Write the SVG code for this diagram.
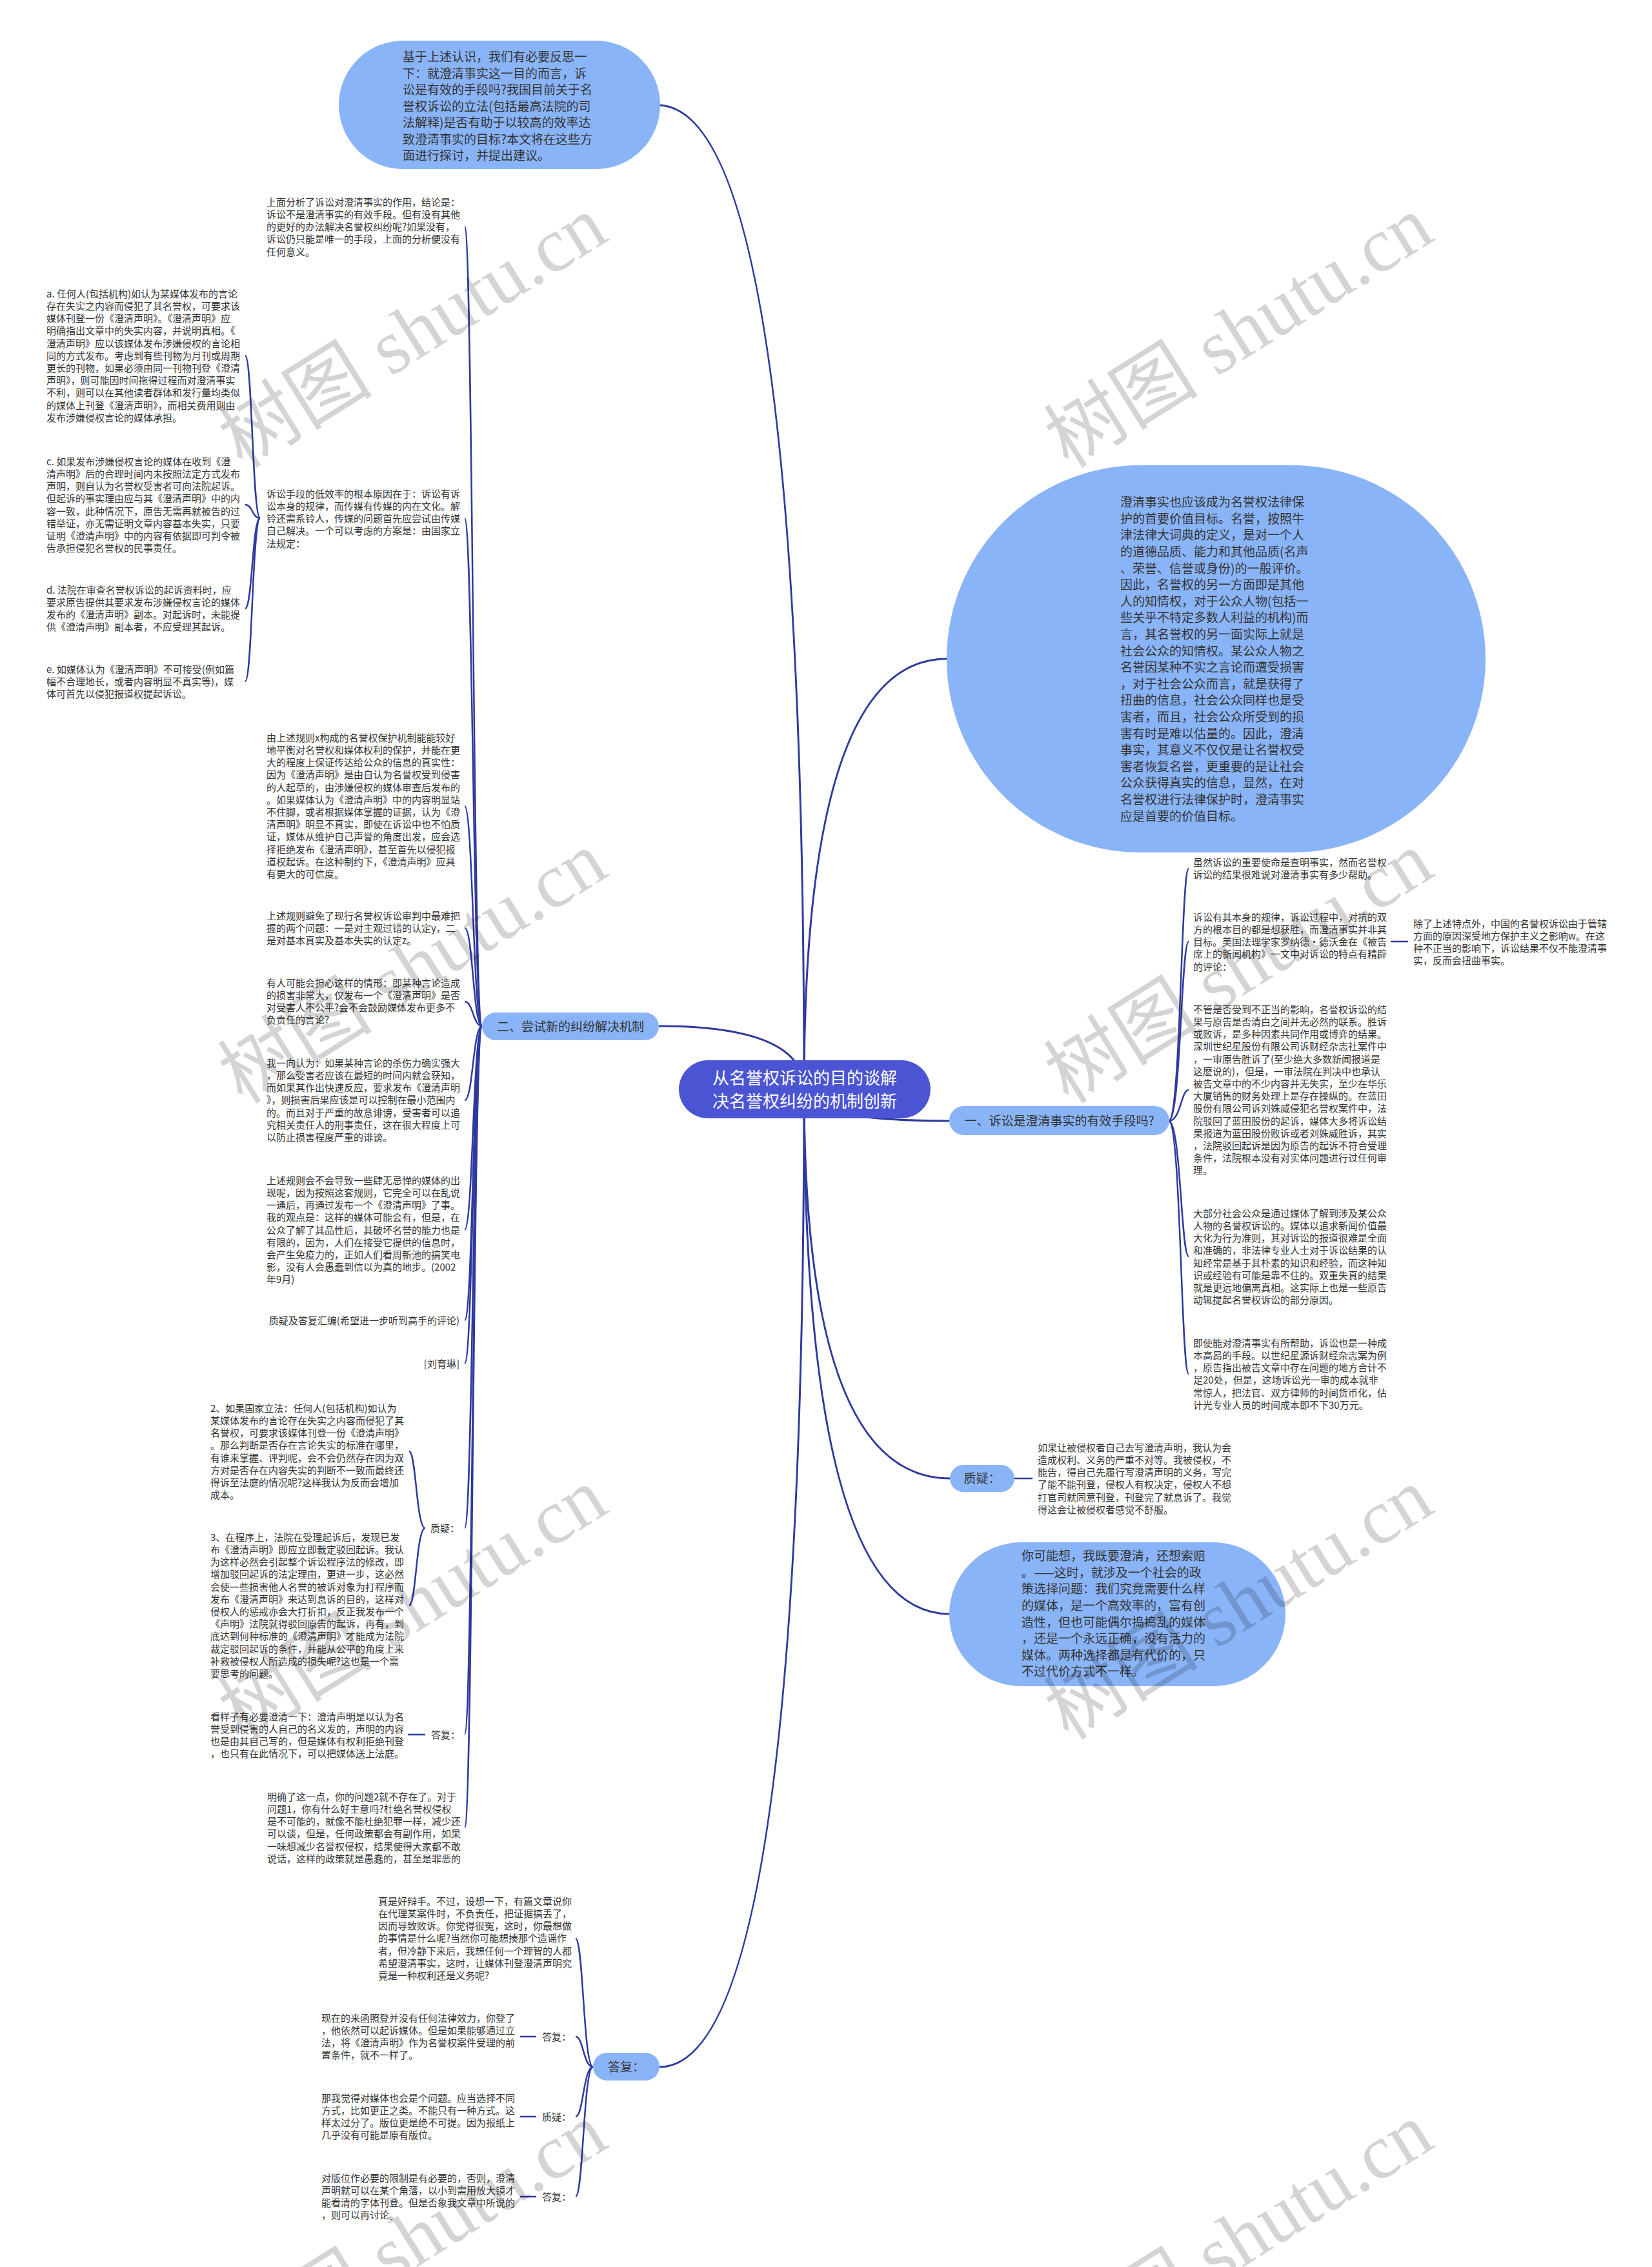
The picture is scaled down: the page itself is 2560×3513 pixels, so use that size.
<svg xmlns="http://www.w3.org/2000/svg" width="2560" height="3513" viewBox="0 0 2560 3513">
<style>
.c{fill:none;stroke:#2E3A9E;stroke-width:2.5}
.cm{fill:none;stroke:#2E3A9E;stroke-width:3}
.t{font-family:"Noto Sans CJK SC","Noto Sans",sans-serif;font-size:15px;fill:#333}
.tb{font-family:"Noto Sans CJK SC","Noto Sans",sans-serif;font-size:19px;fill:#333}
.nb{fill:#8AB4F8}
.wm{font-family:"Liberation Serif","Noto Sans CJK SC",serif;font-size:120px;fill:#000;fill-opacity:0.17}
</style>
<rect width="2560" height="3513" fill="#fff"/>
<g id="connectors">
<path class="cm" d="M1246 1688 Q1246 163 1019 163"/>
<path class="cm" d="M1246 1688 Q1246 1021 1467 1021"/>
<path class="cm" d="M1246 1688 Q1246 1590 1021 1590"/>
<path class="cm" d="M1246 1688 Q1246 1737 1471 1737"/>
<path class="cm" d="M1246 1688 Q1246 2291 1472 2291"/>
<path class="cm" d="M1246 1688 Q1246 2501 1471 2501"/>
<path class="cm" d="M1246 1688 Q1246 3203 1022 3203"/>
<path class="c" d="M747 1590 C733 1590 733 351 720 351"/>
<path class="c" d="M747 1590 C733 1590 733 803 720 803"/>
<path class="c" d="M747 1590 C733 1590 733 1249 720 1249"/>
<path class="c" d="M747 1590 C733 1590 733 1438 720 1438"/>
<path class="c" d="M747 1590 C733 1590 733 1552 720 1552"/>
<path class="c" d="M747 1590 C733 1590 733 1705 720 1705"/>
<path class="c" d="M747 1590 C733 1590 733 1906 720 1906"/>
<path class="c" d="M747 1590 C733 1590 733 2046 720 2046"/>
<path class="c" d="M747 1590 C733 1590 733 2113 720 2113"/>
<path class="c" d="M747 1590 C733 1590 733 2368 720 2368"/>
<path class="c" d="M747 1590 C733 1590 733 2688 720 2688"/>
<path class="c" d="M747 1590 C733 1590 733 2832 720 2832"/>
<path class="c" d="M403 803 C391 803 391 551 380 551"/>
<path class="c" d="M403 803 C391 803 391 782 380 782"/>
<path class="c" d="M403 803 C391 803 391 943 380 943"/>
<path class="c" d="M403 803 C391 803 391 1056 380 1056"/>
<path class="c" d="M659 2368 C645 2368 645 2249 634 2249"/>
<path class="c" d="M659 2368 C645 2368 645 2488 634 2488"/>
<path class="c" d="M659 2688 H632"/>
<path class="c" d="M1811 1737 C1830 1737 1830 1346 1842 1346"/>
<path class="c" d="M1811 1737 C1830 1737 1830 1459 1842 1459"/>
<path class="c" d="M1811 1737 C1830 1737 1830 1689 1842 1689"/>
<path class="c" d="M1811 1737 C1830 1737 1830 1947 1842 1947"/>
<path class="c" d="M1811 1737 C1830 1737 1830 2129 1842 2129"/>
<path class="c" d="M2155 1459 H2182"/>
<path class="c" d="M1572 2291 H1600"/>
<path class="c" d="M919 3203 C904 3203 904 3004 892 3004"/>
<path class="c" d="M919 3203 C904 3203 904 3156 892 3156"/>
<path class="c" d="M919 3203 C904 3203 904 3280 892 3280"/>
<path class="c" d="M919 3203 C904 3203 904 3404 892 3404"/>
<path class="c" d="M831 3156 H806"/>
<path class="c" d="M831 3280 H806"/>
<path class="c" d="M831 3404 H806"/>
</g>
<g id="center">
<rect x="1052" y="1643" width="390" height="90" rx="45" fill="#4B55D3"/>
<text font-family="Noto Sans CJK SC,sans-serif" font-size="26" fill="#fff" text-anchor="middle"><tspan x="1247" y="1680">从名誉权诉讼的目的谈解</tspan><tspan x="1247" y="1716">决名誉权纠纷的机制创新</tspan></text>
</g>
<g id="top-bubble">
<rect class="nb" x="525" y="63" width="498" height="199" rx="99.5"/>
<text class="tb" x="624" y="95.2"><tspan x="624">基于上述认识，我们有必要反思一</tspan><tspan x="624" dy="25.5">下：就澄清事实这一目的而言，诉</tspan><tspan x="624" dy="25.5">讼是有效的手段吗?我国目前关于名</tspan><tspan x="624" dy="25.5">誉权诉讼的立法(包括最高法院的司</tspan><tspan x="624" dy="25.5">法解释)是否有助于以较高的效率达</tspan><tspan x="624" dy="25.5">致澄清事实的目标?本文将在这些方</tspan><tspan x="624" dy="25.5">面进行探讨，并提出建议。</tspan></text>
</g>
<g id="ellipse">
<rect class="nb" x="1467" y="721" width="835" height="600" rx="300"/>
<text class="tb" x="1736" y="785.2"><tspan x="1736">澄清事实也应该成为名誉权法律保</tspan><tspan x="1736" dy="25.6">护的首要价值目标。名誉，按照牛</tspan><tspan x="1736" dy="25.6">津法律大词典的定义，是对一个人</tspan><tspan x="1736" dy="25.6">的道德品质、能力和其他品质(名声</tspan><tspan x="1736" dy="25.6">、荣誉、信誉或身份)的一般评价。</tspan><tspan x="1736" dy="25.6">因此，名誉权的另一方面即是其他</tspan><tspan x="1736" dy="25.6">人的知情权，对于公众人物(包括一</tspan><tspan x="1736" dy="25.6">些关乎不特定多数人利益的机构)而</tspan><tspan x="1736" dy="25.6">言，其名誉权的另一面实际上就是</tspan><tspan x="1736" dy="25.6">社会公众的知情权。某公众人物之</tspan><tspan x="1736" dy="25.6">名誉因某种不实之言论而遭受损害</tspan><tspan x="1736" dy="25.6">，对于社会公众而言，就是获得了</tspan><tspan x="1736" dy="25.6">扭曲的信息，社会公众同样也是受</tspan><tspan x="1736" dy="25.6">害者，而且，社会公众所受到的损</tspan><tspan x="1736" dy="25.6">害有时是难以估量的。因此，澄清</tspan><tspan x="1736" dy="25.6">事实，其意义不仅仅是让名誉权受</tspan><tspan x="1736" dy="25.6">害者恢复名誉，更重要的是让社会</tspan><tspan x="1736" dy="25.6">公众获得真实的信息，显然，在对</tspan><tspan x="1736" dy="25.6">名誉权进行法律保护时，澄清事实</tspan><tspan x="1736" dy="25.6">应是首要的价值目标。</tspan></text>
</g>
<g id="bubble-bottom">
<rect class="nb" x="1471" y="2390" width="521" height="223" rx="111.5"/>
<text class="tb" x="1583" y="2418.2"><tspan x="1583">你可能想，我既要澄清，还想索赔</tspan><tspan x="1583" dy="25.6">。——这时，就涉及一个社会的政</tspan><tspan x="1583" dy="25.6">策选择问题：我们究竟需要什么样</tspan><tspan x="1583" dy="25.6">的媒体，是一个高效率的，富有创</tspan><tspan x="1583" dy="25.6">造性，但也可能偶尔捣捣乱的媒体</tspan><tspan x="1583" dy="25.6">，还是一个永远正确，没有活力的</tspan><tspan x="1583" dy="25.6">媒体。两种选择都是有代价的，只</tspan><tspan x="1583" dy="25.6">不过代价方式不一样。</tspan></text>
</g>
<g id="branch-2">
<rect class="nb" x="747" y="1569" width="274" height="43" rx="21.5"/>
<text class="tb" x="884" y="1597.7" text-anchor="middle">二、尝试新的纠纷解决机制</text>
</g>
<g id="branch-1">
<rect class="nb" x="1471" y="1714" width="341" height="45" rx="22.5"/>
<text class="tb" x="1641.5" y="1743.7" text-anchor="middle">一、诉讼是澄清事实的有效手段吗?</text>
</g>
<g id="branch-q">
<rect class="nb" x="1472" y="2270" width="100" height="42" rx="21"/>
<text class="tb" x="1522" y="2298.2" text-anchor="middle">质疑：</text>
</g>
<g id="branch-a">
<rect class="nb" x="919" y="3181" width="103" height="43" rx="21.5"/>
<text class="tb" x="970.5" y="3209.7" text-anchor="middle">答复：</text>
</g>
<g id="L1"><text class="t" x="413" y="318.7"><tspan x="413">上面分析了诉讼对澄清事实的作用，结论是：</tspan><tspan x="413" dy="19.2">诉讼不是澄清事实的有效手段。但有没有其他</tspan><tspan x="413" dy="19.2">的更好的办法解决名誉权纠纷呢?如果没有，</tspan><tspan x="413" dy="19.2">诉讼仍只能是唯一的手段，上面的分析便没有</tspan><tspan x="413" dy="19.2">任何意义。</tspan></text></g>
<g id="L2"><text class="t" x="413" y="770.7"><tspan x="413">诉讼手段的低效率的根本原因在于：诉讼有诉</tspan><tspan x="413" dy="19.2">讼本身的规律，而传媒有传媒的内在文化。解</tspan><tspan x="413" dy="19.2">铃还需系铃人，传媒的问题首先应尝试由传媒</tspan><tspan x="413" dy="19.2">自己解决。一个可以考虑的方案是：由国家立</tspan><tspan x="413" dy="19.2">法规定：</tspan></text></g>
<g id="La"><text class="t" x="72" y="460.7"><tspan x="72">a. 任何人(包括机构)如认为某媒体发布的言论</tspan><tspan x="72" dy="19.2">存在失实之内容而侵犯了其名誉权，可要求该</tspan><tspan x="72" dy="19.2">媒体刊登一份《澄清声明》。《澄清声明》应</tspan><tspan x="72" dy="19.2">明确指出文章中的失实内容，并说明真相。《</tspan><tspan x="72" dy="19.2">澄清声明》应以该媒体发布涉嫌侵权的言论相</tspan><tspan x="72" dy="19.2">同的方式发布。考虑到有些刊物为月刊或周期</tspan><tspan x="72" dy="19.2">更长的刊物，如果必须由同一刊物刊登《澄清</tspan><tspan x="72" dy="19.2">声明》，则可能因时间拖得过程而对澄清事实</tspan><tspan x="72" dy="19.2">不利，则可以在其他读者群体和发行量均类似</tspan><tspan x="72" dy="19.2">的媒体上刊登《澄清声明》，而相关费用则由</tspan><tspan x="72" dy="19.2">发布涉嫌侵权言论的媒体承担。</tspan></text></g>
<g id="Lc"><text class="t" x="72" y="720.7"><tspan x="72">c. 如果发布涉嫌侵权言论的媒体在收到《澄</tspan><tspan x="72" dy="19.2">清声明》后的合理时间内未按照法定方式发布</tspan><tspan x="72" dy="19.2">声明，则自认为名誉权受害者可向法院起诉。</tspan><tspan x="72" dy="19.2">但起诉的事实理由应与其《澄清声明》中的内</tspan><tspan x="72" dy="19.2">容一致，此种情况下，原告无需再就被告的过</tspan><tspan x="72" dy="19.2">错举证，亦无需证明文章内容基本失实，只要</tspan><tspan x="72" dy="19.2">证明《澄清声明》中的内容有依据即可判令被</tspan><tspan x="72" dy="19.2">告承担侵犯名誉权的民事责任。</tspan></text></g>
<g id="Ld"><text class="t" x="72" y="919.7"><tspan x="72">d. 法院在审查名誉权诉讼的起诉资料时，应</tspan><tspan x="72" dy="19.2">要求原告提供其要求发布涉嫌侵权言论的媒体</tspan><tspan x="72" dy="19.2">发布的《澄清声明》副本。对起诉时，未能提</tspan><tspan x="72" dy="19.2">供《澄清声明》副本者，不应受理其起诉。</tspan></text></g>
<g id="Le"><text class="t" x="72" y="1042.7"><tspan x="72">e. 如媒体认为《澄清声明》不可接受(例如篇</tspan><tspan x="72" dy="19.2">幅不合理地长，或者内容明显不真实等)，媒</tspan><tspan x="72" dy="19.2">体可首先以侵犯报道权提起诉讼。</tspan></text></g>
<g id="L3"><text class="t" x="413" y="1148.7"><tspan x="413">由上述规则x构成的名誉权保护机制能能较好</tspan><tspan x="413" dy="19.2">地平衡对名誉权和媒体权利的保护，并能在更</tspan><tspan x="413" dy="19.2">大的程度上保证传达给公众的信息的真实性：</tspan><tspan x="413" dy="19.2">因为《澄清声明》是由自认为名誉权受到侵害</tspan><tspan x="413" dy="19.2">的人起草的，由涉嫌侵权的媒体审查后发布的</tspan><tspan x="413" dy="19.2">。如果媒体认为《澄清声明》中的内容明显站</tspan><tspan x="413" dy="19.2">不住脚，或者根据媒体掌握的证据，认为《澄</tspan><tspan x="413" dy="19.2">清声明》明显不真实，即使在诉讼中也不怕质</tspan><tspan x="413" dy="19.2">证，媒体从维护自己声誉的角度出发，应会选</tspan><tspan x="413" dy="19.2">择拒绝发布《澄清声明》，甚至首先以侵犯报</tspan><tspan x="413" dy="19.2">道权起诉。在这种制约下，《澄清声明》应具</tspan><tspan x="413" dy="19.2">有更大的可信度。</tspan></text></g>
<g id="L4"><text class="t" x="413" y="1424.7"><tspan x="413">上述规则避免了现行名誉权诉讼审判中最难把</tspan><tspan x="413" dy="19.2">握的两个问题：一是对主观过错的认定y，二</tspan><tspan x="413" dy="19.2">是对基本真实及基本失实的认定z。</tspan></text></g>
<g id="L5"><text class="t" x="413" y="1528.7"><tspan x="413">有人可能会担心这样的情形：即某种言论造成</tspan><tspan x="413" dy="19.2">的损害非常大，仅发布一个《澄清声明》是否</tspan><tspan x="413" dy="19.2">对受害人不公平?会不会鼓励媒体发布更多不</tspan><tspan x="413" dy="19.2">负责任的言论?</tspan></text></g>
<g id="L6"><text class="t" x="413" y="1652.7"><tspan x="413">我一向认为：如果某种言论的杀伤力确实强大</tspan><tspan x="413" dy="19.2">，那么受害者应该在最短的时间内就会获知，</tspan><tspan x="413" dy="19.2">而如果其作出快速反应，要求发布《澄清声明</tspan><tspan x="413" dy="19.2">》，则损害后果应该是可以控制在最小范围内</tspan><tspan x="413" dy="19.2">的。而且对于严重的故意诽谤，受害者可以追</tspan><tspan x="413" dy="19.2">究相关责任人的刑事责任，这在很大程度上可</tspan><tspan x="413" dy="19.2">以防止损害程度严重的诽谤。</tspan></text></g>
<g id="L7"><text class="t" x="413" y="1834.7"><tspan x="413">上述规则会不会导致一些肆无忌惮的媒体的出</tspan><tspan x="413" dy="19.2">现呢，因为按照这套规则，它完全可以在乱说</tspan><tspan x="413" dy="19.2">一通后，再通过发布一个《澄清声明》了事。</tspan><tspan x="413" dy="19.2">我的观点是：这样的媒体可能会有，但是，在</tspan><tspan x="413" dy="19.2">公众了解了其品性后，其破坏名誉的能力也是</tspan><tspan x="413" dy="19.2">有限的，因为，人们在接受它提供的信息时，</tspan><tspan x="413" dy="19.2">会产生免疫力的，正如人们看周新池的搞笑电</tspan><tspan x="413" dy="19.2">影，没有人会愚蠢到信以为真的地步。(2002</tspan><tspan x="413" dy="19.2">年9月)</tspan></text></g>
<g id="L8"><text class="t" x="712" y="2051.7" text-anchor="end">质疑及答复汇编(希望进一步听到高手的评论)</text></g>
<g id="L9"><text class="t" x="712" y="2118.7" text-anchor="end">[刘育琳]</text></g>
<g id="L10"><text class="t" x="667" y="2373.7">质疑：</text></g>
<g id="L10a"><text class="t" x="326" y="2187.7"><tspan x="326">2、如果国家立法：任何人(包括机构)如认为</tspan><tspan x="326" dy="19.2">某媒体发布的言论存在失实之内容而侵犯了其</tspan><tspan x="326" dy="19.2">名誉权，可要求该媒体刊登一份《澄清声明》</tspan><tspan x="326" dy="19.2">。那么判断是否存在言论失实的标准在哪里，</tspan><tspan x="326" dy="19.2">有谁来掌握、评判呢，会不会仍然存在因为双</tspan><tspan x="326" dy="19.2">方对是否存在内容失实的判断不一致而最终还</tspan><tspan x="326" dy="19.2">得诉至法庭的情况呢?这样我认为反而会增加</tspan><tspan x="326" dy="19.2">成本。</tspan></text></g>
<g id="L10b"><text class="t" x="326" y="2387.7"><tspan x="326">3、在程序上，法院在受理起诉后，发现已发</tspan><tspan x="326" dy="19.2">布《澄清声明》即应立即裁定驳回起诉。我认</tspan><tspan x="326" dy="19.2">为这样必然会引起整个诉讼程序法的修改，即</tspan><tspan x="326" dy="19.2">增加驳回起诉的法定理由，更进一步，这必然</tspan><tspan x="326" dy="19.2">会使一些损害他人名誉的被诉对象为打程序而</tspan><tspan x="326" dy="19.2">发布《澄清声明》来达到息诉的目的，这样对</tspan><tspan x="326" dy="19.2">侵权人的惩戒亦会大打折扣，反正我发布一个</tspan><tspan x="326" dy="19.2">《声明》法院就得驳回原告的起诉，再有，到</tspan><tspan x="326" dy="19.2">底达到何种标准的《澄清声明》才能成为法院</tspan><tspan x="326" dy="19.2">裁定驳回起诉的条件，并能从公平的角度上来</tspan><tspan x="326" dy="19.2">补救被侵权人所造成的损失呢?这也是一个需</tspan><tspan x="326" dy="19.2">要思考的问题。</tspan></text></g>
<g id="L11"><text class="t" x="668" y="2693.7">答复：</text></g>
<g id="L11a"><text class="t" x="326" y="2665.7"><tspan x="326">看样子有必要澄清一下：澄清声明是以认为名</tspan><tspan x="326" dy="19.2">誉受到侵害的人自己的名义发的，声明的内容</tspan><tspan x="326" dy="19.2">也是由其自己写的，但是媒体有权利拒绝刊登</tspan><tspan x="326" dy="19.2">，也只有在此情况下，可以把媒体送上法庭。</tspan></text></g>
<g id="L12"><text class="t" x="414" y="2789.7"><tspan x="414">明确了这一点，你的问题2就不存在了。对于</tspan><tspan x="414" dy="19.2">问题1，你有什么好主意吗?杜绝名誉权侵权</tspan><tspan x="414" dy="19.2">是不可能的，就像不能杜绝犯罪一样，减少还</tspan><tspan x="414" dy="19.2">可以谈，但是，任何政策都会有副作用，如果</tspan><tspan x="414" dy="19.2">一味想减少名誉权侵权，结果使得大家都不敢</tspan><tspan x="414" dy="19.2">说话，这样的政策就是愚蠢的，甚至是罪恶的</tspan></text></g>
<g id="B1"><text class="t" x="586" y="2951.7"><tspan x="586">真是好辩手。不过，设想一下，有篇文章说你</tspan><tspan x="586" dy="19.2">在代理某案件时，不负责任，把证据搞丢了，</tspan><tspan x="586" dy="19.2">因而导致败诉。你觉得很冤，这时，你最想做</tspan><tspan x="586" dy="19.2">的事情是什么呢?当然你可能想揍那个造谣作</tspan><tspan x="586" dy="19.2">者，但冷静下来后，我想任何一个理智的人都</tspan><tspan x="586" dy="19.2">希望澄清事实，这时，让媒体刊登澄清声明究</tspan><tspan x="586" dy="19.2">竟是一种权利还是义务呢?</tspan></text></g>
<g id="B2"><text class="t" x="840" y="3161.7">答复：</text></g>
<g id="B2a"><text class="t" x="498" y="3132.7"><tspan x="498">现在的来函照登并没有任何法律效力，你登了</tspan><tspan x="498" dy="19.2">，他依然可以起诉媒体。但是如果能够通过立</tspan><tspan x="498" dy="19.2">法，将《澄清声明》作为名誉权案件受理的前</tspan><tspan x="498" dy="19.2">置条件，就不一样了。</tspan></text></g>
<g id="B3"><text class="t" x="840" y="3285.7">质疑：</text></g>
<g id="B3a"><text class="t" x="498" y="3256.7"><tspan x="498">那我觉得对媒体也会是个问题。应当选择不同</tspan><tspan x="498" dy="19.2">方式，比如更正之类。不能只有一种方式。这</tspan><tspan x="498" dy="19.2">样太过分了。版位更是绝不可提。因为报纸上</tspan><tspan x="498" dy="19.2">几乎没有可能是原有版位。</tspan></text></g>
<g id="B4"><text class="t" x="840" y="3409.7">答复：</text></g>
<g id="B4a"><text class="t" x="498" y="3380.7"><tspan x="498">对版位作必要的限制是有必要的，否则，澄清</tspan><tspan x="498" dy="19.2">声明就可以在某个角落，以小到需用放大镜才</tspan><tspan x="498" dy="19.2">能看清的字体刊登。但是否象我文章中所说的</tspan><tspan x="498" dy="19.2">，则可以再讨论。</tspan></text></g>
<g id="R1"><text class="t" x="1849" y="1341.7"><tspan x="1849">虽然诉讼的重要使命是查明事实，然而名誉权</tspan><tspan x="1849" dy="19.2">诉讼的结果很难说对澄清事实有多少帮助。</tspan></text></g>
<g id="R2"><text class="t" x="1849" y="1426.7"><tspan x="1849">诉讼有其本身的规律，诉讼过程中，对抗的双</tspan><tspan x="1849" dy="19.2">方的根本目的都是想获胜，而澄清事实并非其</tspan><tspan x="1849" dy="19.2">目标。美国法理学家罗纳德·德沃金在《被告</tspan><tspan x="1849" dy="19.2">席上的新闻机构》一文中对诉讼的特点有精辟</tspan><tspan x="1849" dy="19.2">的评论：</tspan></text></g>
<g id="R2a"><text class="t" x="2190" y="1436.7"><tspan x="2190">除了上述特点外，中国的名誉权诉讼由于管辖</tspan><tspan x="2190" dy="19.2">方面的原因深受地方保护主义之影响w。在这</tspan><tspan x="2190" dy="19.2">种不正当的影响下，诉讼结果不仅不能澄清事</tspan><tspan x="2190" dy="19.2">实，反而会扭曲事实。</tspan></text></g>
<g id="R3"><text class="t" x="1849" y="1569.7"><tspan x="1849">不管是否受到不正当的影响，名誉权诉讼的结</tspan><tspan x="1849" dy="19.2">果与原告是否清白之间并无必然的联系。胜诉</tspan><tspan x="1849" dy="19.2">或败诉，是多种因素共同作用或博弈的结果。</tspan><tspan x="1849" dy="19.2">深圳世纪星股份有限公司诉财经杂志社案件中</tspan><tspan x="1849" dy="19.2">，一审原告胜诉了(至少绝大多数新闻报道是</tspan><tspan x="1849" dy="19.2">这麽说的)，但是，一审法院在判决中也承认</tspan><tspan x="1849" dy="19.2">被告文章中的不少内容并无失实，至少在华乐</tspan><tspan x="1849" dy="19.2">大厦销售的财务处理上是存在操纵的。在蓝田</tspan><tspan x="1849" dy="19.2">股份有限公司诉刘姝威侵犯名誉权案件中，法</tspan><tspan x="1849" dy="19.2">院驳回了蓝田股份的起诉，媒体大多将诉讼结</tspan><tspan x="1849" dy="19.2">果报道为蓝田股份败诉或者刘姝威胜诉，其实</tspan><tspan x="1849" dy="19.2">，法院驳回起诉是因为原告的起诉不符合受理</tspan><tspan x="1849" dy="19.2">条件，法院根本没有对实体问题进行过任何审</tspan><tspan x="1849" dy="19.2">理。</tspan></text></g>
<g id="R4"><text class="t" x="1849" y="1885.7"><tspan x="1849">大部分社会公众是通过媒体了解到涉及某公众</tspan><tspan x="1849" dy="19.2">人物的名誉权诉讼的。媒体以追求新闻价值最</tspan><tspan x="1849" dy="19.2">大化为行为准则，其对诉讼的报道很难是全面</tspan><tspan x="1849" dy="19.2">和准确的，非法律专业人士对于诉讼结果的认</tspan><tspan x="1849" dy="19.2">知经常是基于其朴素的知识和经验，而这种知</tspan><tspan x="1849" dy="19.2">识或经验有可能是靠不住的。双重失真的结果</tspan><tspan x="1849" dy="19.2">就是更远地偏离真相。这实际上也是一些原告</tspan><tspan x="1849" dy="19.2">动辄提起名誉权诉讼的部分原因。</tspan></text></g>
<g id="R5"><text class="t" x="1849" y="2086.7"><tspan x="1849">即使能对澄清事实有所帮助，诉讼也是一种成</tspan><tspan x="1849" dy="19.2">本高昂的手段。以世纪星源诉财经杂志案为例</tspan><tspan x="1849" dy="19.2">，原告指出被告文章中存在问题的地方合计不</tspan><tspan x="1849" dy="19.2">足20处，但是，这场诉讼光一审的成本就非</tspan><tspan x="1849" dy="19.2">常惊人，把法官、双方律师的时间货币化，估</tspan><tspan x="1849" dy="19.2">计光专业人员的时间成本即不下30万元。</tspan></text></g>
<g id="Rq"><text class="t" x="1608" y="2248.7"><tspan x="1608">如果让被侵权者自己去写澄清声明，我认为会</tspan><tspan x="1608" dy="19.2">造成权利、义务的严重不对等。我被侵权，不</tspan><tspan x="1608" dy="19.2">能告，得自己先履行写澄清声明的义务，写完</tspan><tspan x="1608" dy="19.2">了能不能刊登，侵权人有权决定，侵权人不想</tspan><tspan x="1608" dy="19.2">打官司就同意刊登，刊登完了就息诉了。我觉</tspan><tspan x="1608" dy="19.2">得这会让被侵权者感觉不舒服。</tspan></text></g>
<g id="watermarks">
<text class="wm" text-anchor="middle" transform="translate(640 515) rotate(-32)" y="40">树图 shutu.cn</text>
<text class="wm" text-anchor="middle" transform="translate(1920 515) rotate(-32)" y="40">树图 shutu.cn</text>
<text class="wm" text-anchor="middle" transform="translate(640 1500) rotate(-32)" y="40">树图 shutu.cn</text>
<text class="wm" text-anchor="middle" transform="translate(1920 1500) rotate(-32)" y="40">树图 shutu.cn</text>
<text class="wm" text-anchor="middle" transform="translate(640 2486) rotate(-32)" y="40">树图 shutu.cn</text>
<text class="wm" text-anchor="middle" transform="translate(1920 2486) rotate(-32)" y="40">树图 shutu.cn</text>
<text class="wm" text-anchor="middle" transform="translate(640 3470) rotate(-32)" y="40">树图 shutu.cn</text>
<text class="wm" text-anchor="middle" transform="translate(1920 3470) rotate(-32)" y="40">树图 shutu.cn</text>
</g>
</svg>
